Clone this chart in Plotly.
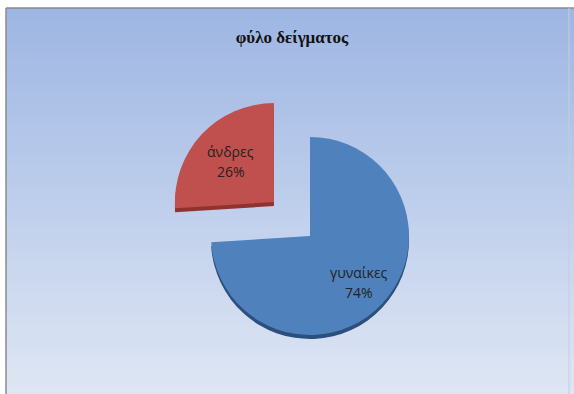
import math
import plotly.graph_objects as go

# ---- data ----
labels = ["γυναίκες", "άνδρες"]
values = [74, 26]
pulls = [0, 0.5]
colors = ["#4F81BD", "#C0504D"]
edge_colors = ["#2C4F7C", "#8E3330"]
label_radius = [0.68, 0.60]  # label distance from slice tip, fraction of radius
title_text = "φύλο δείγματος"

W, H = 574, 394
cx, cy, r = 310, 236, 99  # pie centre (px) and radius
box = 2 * r * (1 + max(pulls))
dx0 = (cx - box / 2) / W
dx1 = (cx + box / 2) / W
dy0 = (H - cy - box / 2) / H
dy1 = (H - cy + box / 2) / H
shift = 4 / H

fig = go.Figure()

# thickness (3D edge)
fig.add_trace(go.Pie(
    labels=labels, values=values, pull=pulls, sort=False,
    direction="clockwise", rotation=0,
    marker=dict(colors=edge_colors, line=dict(width=0)),
    textinfo="none", hoverinfo="skip", showlegend=False,
    domain=dict(x=[dx0, dx1], y=[dy0 - shift, dy1 - shift]),
))

# top face
fig.add_trace(go.Pie(
    labels=labels, values=values, pull=pulls, sort=False,
    direction="clockwise", rotation=0,
    marker=dict(colors=colors, line=dict(width=0)),
    textinfo="none", showlegend=False,
    domain=dict(x=[dx0, dx1], y=[dy0, dy1]),
))

# data labels computed from the slice angles
total = sum(values)
annotations = []
cum = 0
for lab, v, p, k in zip(labels, values, pulls, label_radius):
    mid = (cum + v / 2) / total * 2 * math.pi  # clockwise from 12 o'clock
    cum += v
    ux, uy = math.sin(mid), -math.cos(mid)
    tipx, tipy = cx + p * r * ux, cy + p * r * uy
    lx, ly = tipx + k * r * ux, tipy + k * r * uy
    pct = "%d%%" % round(100 * v / total)
    for txt, dy in ((lab, -10), (pct, 10)):
        annotations.append(dict(
            x=lx / W, y=1 - (ly + dy) / H, xref="paper", yref="paper",
            text=txt, showarrow=False, xanchor="center", yanchor="middle",
            font=dict(family="Open Sans, Noto Sans, sans-serif", size=14,
                      color="#222222")))

# background gradient bands (inside frame)
top_c = (158, 182, 227)
bot_c = (222, 230, 244)
fx0, fy1 = 6 / W, 1 - 8 / H
n = 60
shapes = []
for i in range(n):
    t = i / (n - 1)
    c = tuple(round(top_c[j] + (bot_c[j] - top_c[j]) * t) for j in range(3))
    y_top = fy1 - fy1 * i / n
    y_bot = fy1 - fy1 * (i + 1) / n - 0.002
    shapes.append(dict(type="rect", xref="paper", yref="paper",
                       x0=fx0, x1=1.0, y0=max(y_bot, 0), y1=y_top,
                       fillcolor="rgb(%d,%d,%d)" % c, line=dict(width=0),
                       layer="below"))
# frame lines
shapes.append(dict(type="line", xref="paper", yref="paper", x0=fx0, x1=fx0,
                   y0=0, y1=fy1, line=dict(color="#8a8a8a", width=1.5)))
shapes.append(dict(type="line", xref="paper", yref="paper", x0=fx0, x1=1,
                   y0=fy1, y1=fy1, line=dict(color="#8a8a8a", width=1.5)))
shapes.append(dict(type="line", xref="paper", yref="paper", x0=569 / W, x1=569 / W,
                   y0=0, y1=fy1, line=dict(color="#c4cddd", width=1)))

fig.update_layout(
    width=W, height=H,
    margin=dict(l=0, r=0, t=0, b=0),
    paper_bgcolor="white",
    shapes=shapes,
    annotations=annotations,
    title=dict(text="<b>" + title_text + "</b>", x=292 / W, xanchor="center",
               y=1 - 37 / H, yanchor="middle",
               font=dict(family="Liberation Serif, Times New Roman, serif",
                         size=17, color="#111111")),
)

fig.write_html("out.html")
